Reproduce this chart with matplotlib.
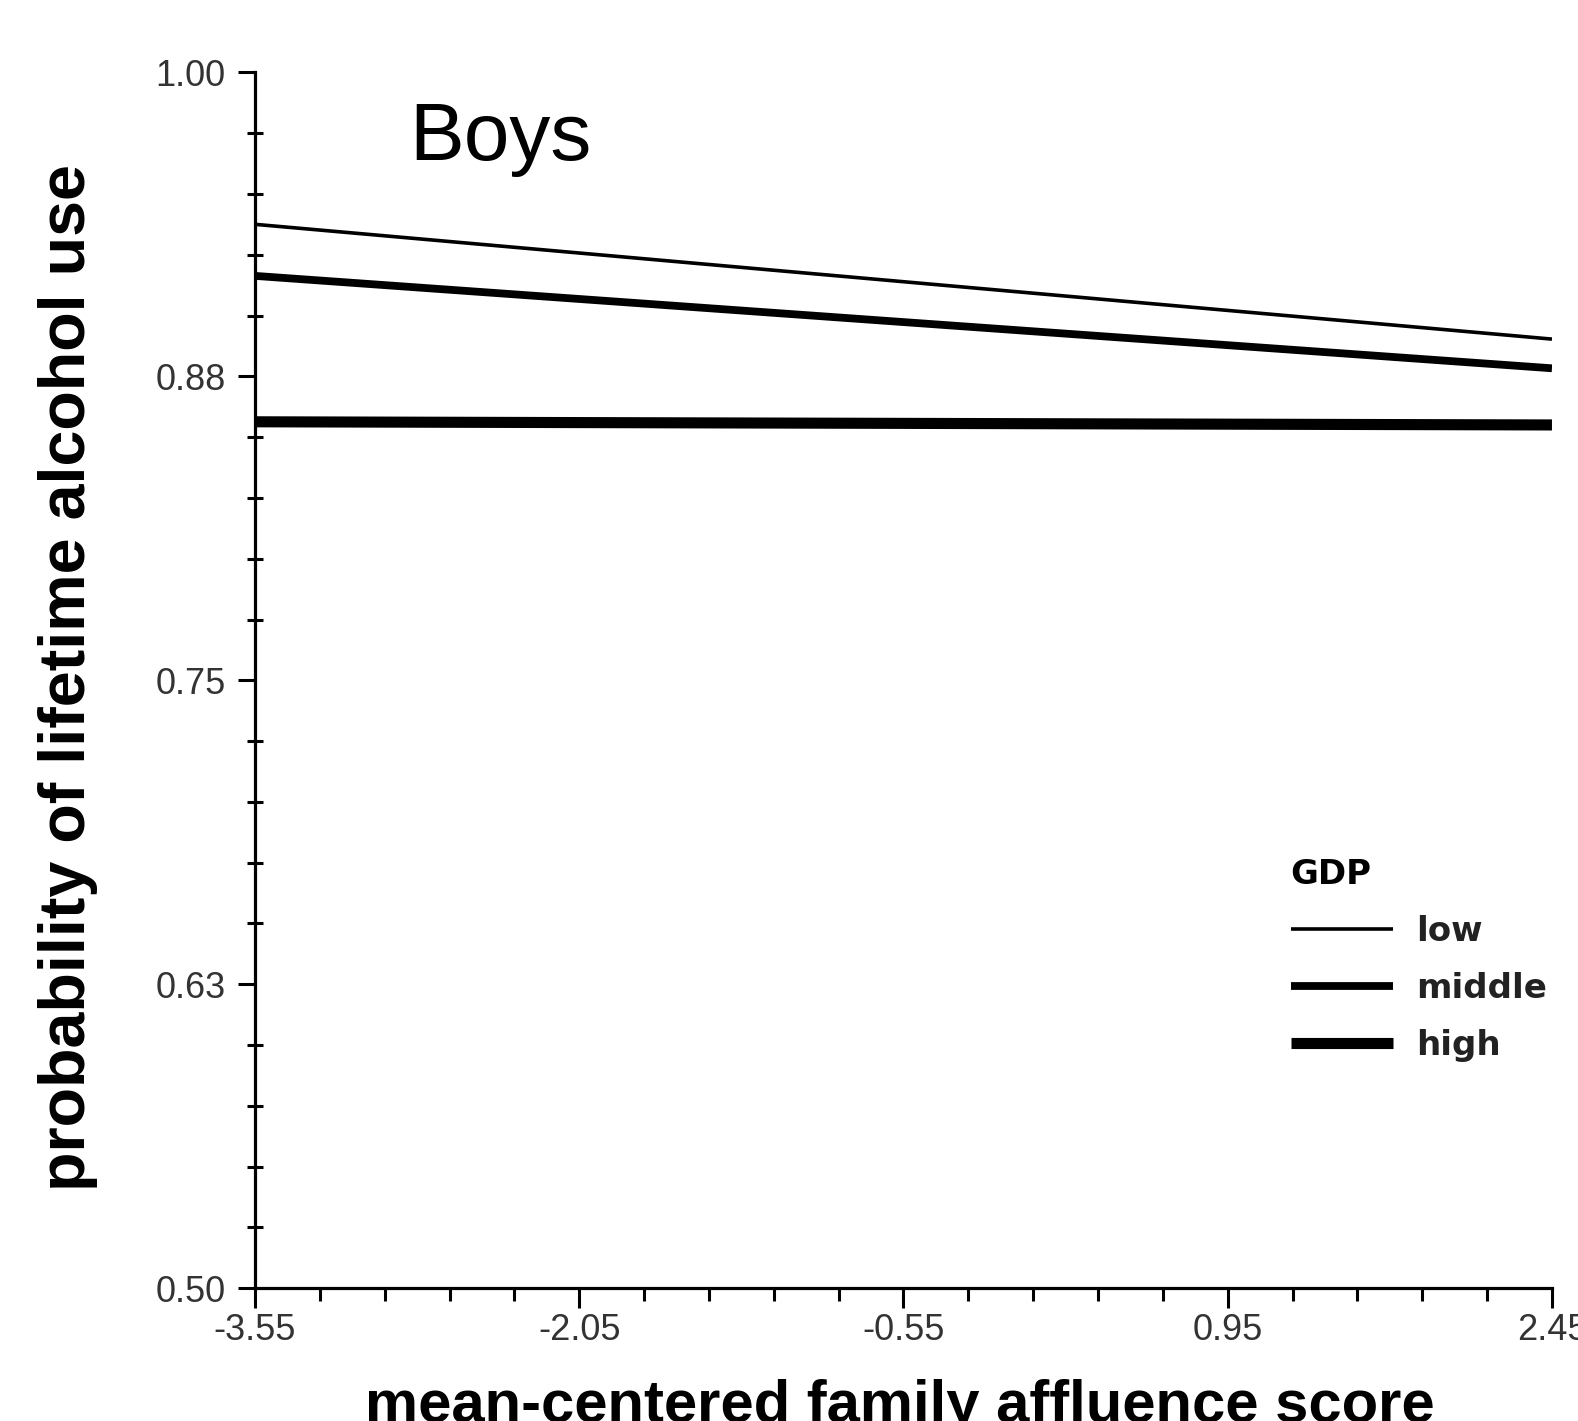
import matplotlib
matplotlib.use("Agg")
import matplotlib.pyplot as plt
import numpy as np

# ── Data ────────────────────────────────────────────────────
fas_x = [-3.55, 2.45]
prob_low = [0.9375, 0.8903]
prob_middle = [0.9163, 0.8783]
prob_high = [0.8563, 0.8550]

gdp_labels = ["low", "middle", "high"]
x_ticks = [-3.55, -2.05, -0.55, 0.95, 2.45]
x_ticklabels = ["-3.55", "-2.05", "-0.55", "0.95", "2.45"]
y_ticks = [0.5, 0.625, 0.75, 0.875, 1.0]
y_ticklabels = ["0.50", "0.63", "0.75", "0.88", "1.00"]

ARIAL = "Liberation Sans"
TICK_GRAY = "#333333"

fig = plt.figure(figsize=(15.78, 14.21), dpi=100)
ax = fig.add_axes([0.1616, 0.0934, 0.8219, 0.8557])

# ── series ──────────────────────────────────────────────────
widths = [2.6, 5.6, 8.0]
for ys, lab, lw in zip([prob_low, prob_middle, prob_high], gdp_labels, widths):
    ax.plot(fas_x, ys, color="black", linewidth=lw, label=lab,
            solid_capstyle="butt")

ax.set_xlim(-3.55, 2.45)
ax.set_ylim(0.5, 1.0)

# ── axes styling ────────────────────────────────────────────
for side in ["top", "right"]:
    ax.spines[side].set_visible(False)
for side in ["left", "bottom"]:
    ax.spines[side].set_linewidth(2.3)

ax.set_xticks(x_ticks)
ax.set_xticklabels(x_ticklabels)
ax.set_xticks(np.arange(-3.55, 2.46, 0.3), minor=True)
ax.set_yticks(y_ticks)
ax.set_yticklabels(y_ticklabels)
ax.set_yticks(np.arange(0.5, 1.001, 0.025), minor=True)

ax.tick_params(axis="x", which="major", direction="out", length=14.5, width=2.2, pad=3)
ax.tick_params(axis="x", which="minor", direction="out", length=9.5, width=2.2)
ax.tick_params(axis="y", which="major", direction="out", length=12, width=2.2, pad=9)
ax.tick_params(axis="y", which="minor", direction="inout", length=11, width=2.2)
for t in ax.get_xticklabels() + ax.get_yticklabels():
    t.set_fontfamily(ARIAL)
    t.set_fontsize(26)
    t.set_color(TICK_GRAY)

# ── labels ──────────────────────────────────────────────────
ax.set_xlabel("mean-centered family affluence score", fontfamily=ARIAL,
              fontweight="bold", fontsize=43, va="top")
ax.xaxis.set_label_coords(0.4975, -0.0745)
ax.set_ylabel("probability of lifetime alcohol use", fontfamily=ARIAL,
              fontweight="bold", fontsize=46.5, va="center")
ax.yaxis.set_label_coords(-0.1445, 0.502)

ax.text(0.119, 0.928, "Boys", transform=ax.transAxes, fontfamily=ARIAL,
        fontsize=59, va="baseline", ha="left")

# ── legend ──────────────────────────────────────────────────
leg = ax.legend(title="GDP", loc="upper left", bbox_to_anchor=(0.7985, 0.3535),
                frameon=False, borderpad=0, borderaxespad=0,
                handlelength=3.0, handletextpad=0.7, labelspacing=0.70,
                alignment="left",
                prop={"family": "DejaVu Sans", "weight": "bold", "size": 24.5},
                title_fontproperties={"family": "DejaVu Sans", "weight": "bold", "size": 24.5})
for t in leg.get_texts():
    t.set_color("#222222")

fig.savefig("out.png", dpi=100)
